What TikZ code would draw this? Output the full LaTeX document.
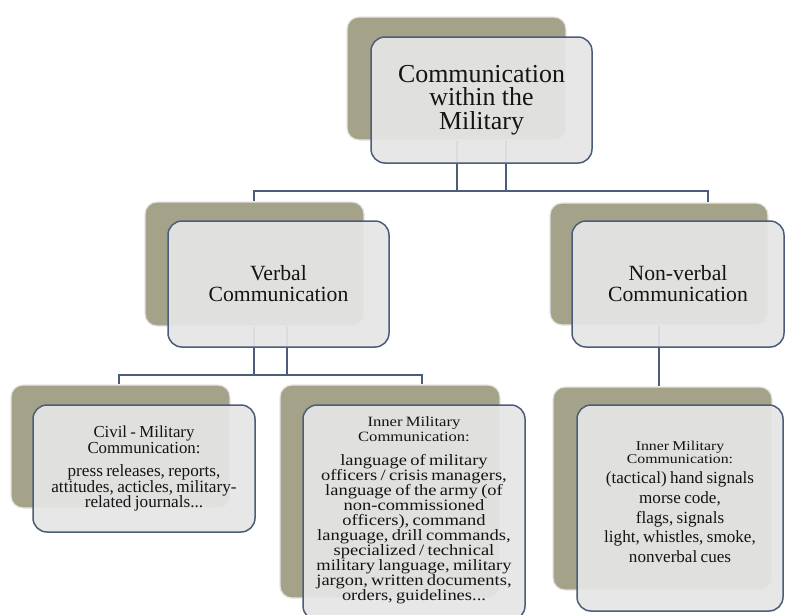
\documentclass[tikz,border=0pt]{standalone}
\usepackage{fontspec}
\setmainfont{Liberation Serif}
\newfontfamily\wideserif[FakeStretch=1.17]{Liberation Serif}
\definecolor{olivebk}{HTML}{A5A28A}
\definecolor{frontfill}{HTML}{E6E6E6}
\definecolor{edgecol}{HTML}{4B5D78}
\begin{document}
\begin{tikzpicture}[x=1pt,y=-1pt,
  backbox/.style={rectangle, rounded corners=12pt, fill=olivebk, draw=black!10, line width=1.2pt, inner sep=0pt},
  frontbox/.style={rectangle, rounded corners=14pt, fill=frontfill, fill opacity=0.92, text opacity=1, draw=edgecol, line width=1.5pt, inner sep=0pt, align=center, text=black!92,
    execute at begin node={\lineskiplimit=-50pt\lineskip=0pt}},
  conn/.style={draw=edgecol, line width=1.5pt}]
\useasboundingbox (0,0) rectangle (785,614);
\fill[white] (0,0) rectangle (785,614);
\clip (0,0) rectangle (785,614);

% back boxes
\node[backbox, minimum width=219pt, minimum height=123pt] (topB) at (456.5,78.5) {};
\node[backbox, minimum width=219pt, minimum height=124pt] (verbB) at (254.5,264) {};
\node[backbox, minimum width=218pt, minimum height=122pt] (nonvB) at (659,264) {};
\node[backbox, minimum width=219pt, minimum height=123pt] (civB) at (120.5,446.5) {};
\node[backbox, minimum width=220pt, minimum height=213pt] (innB) at (390,491.5) {};
\node[backbox, minimum width=219pt, minimum height=203pt] (sigB) at (662.5,488.5) {};

% connectors
\coordinate (t1) at (457,191);
\coordinate (t2) at (506,191);
\coordinate (hL) at (254,191);
\coordinate (hR) at (708,191);
\draw[conn] (topB.south -| t1) -- (t1);
\draw[conn] (topB.south -| t2) -- (t2);
\draw[conn] (verbB.north -| hL) -- (hL) -- (hR) -- (nonvB.north -| hR);

\coordinate (v1) at (254,375);
\coordinate (v2) at (287,375);
\coordinate (vL) at (119,375);
\coordinate (vR) at (422,375);
\draw[conn] (verbB.south -| v1) -- (v1);
\draw[conn] (verbB.south -| v2) -- (v2);
\draw[conn] (civB.north -| vL) -- (vL) -- (vR) -- (innB.north -| vR);

\draw[conn] (nonvB.south) -- (sigB.north -| nonvB.south);

% front boxes
\node[frontbox, minimum width=221pt, minimum height=126pt, font=\fontsize{25.9}{23.7}\selectfont] (topF) at (481.5,100) {Communication\\within the\\Military};
\node[frontbox, minimum width=221pt, minimum height=126pt, font=\fontsize{21.7}{21}\selectfont] (verbF) at (278.5,284) {Verbal\\Communication};
\node[frontbox, minimum width=212pt, minimum height=126pt, font=\fontsize{21.7}{21}\selectfont] (nonvF) at (678,284) {Non-verbal\\Communication};

\node[frontbox, minimum width=222pt, minimum height=127pt, text width=222pt] (civF) at (144,468.5)
 {{\fontsize{16.8}{16}\selectfont Civil - Military\\Communication:\par}\vspace{7.5pt}%
  {\fontsize{17.2}{15.5}\selectfont press releases, reports,\\attitudes, acticles, military-\\related journals...\par}};

\node[frontbox, minimum width=222pt, minimum height=215pt, text width=222pt] (innF) at (414,512.5)
 {{\wideserif\fontsize{14.2}{15}\selectfont Inner Military\\Communication:\par}\vspace{9pt}%
  {\wideserif\fontsize{15.8}{15}\selectfont language of military\\officers / crisis managers,\\language of the army (of\\non-commissioned\\officers), command\\language, drill commands,\\specialized / technical\\military language, military\\jargon, written documents,\\orders, guidelines...\par}\vspace{4pt}};

\node[frontbox, minimum width=206pt, minimum height=206pt, text width=206pt] (sigF) at (680,508)
 {{\wideserif\fontsize{13.5}{12.5}\selectfont Inner Military\\Communication:\par}\vspace{1pt}%
  {\fontsize{17.1}{19.7}\selectfont (tactical) hand signals\\morse code,\\flags, signals\\light, whistles, smoke,\\nonverbal cues\par}\vspace{12pt}};
\end{tikzpicture}
\end{document}
